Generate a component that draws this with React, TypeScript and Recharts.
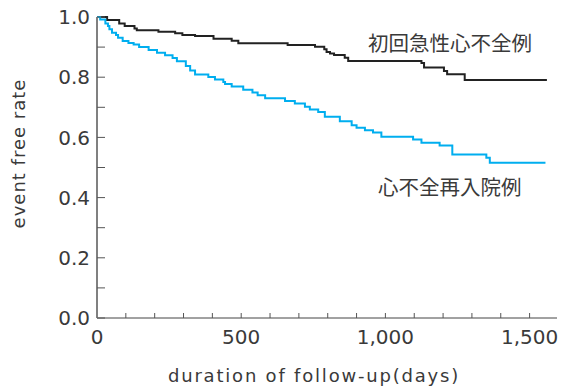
import { LineChart, Line, XAxis, YAxis } from 'recharts'

// 初回急性心不全例 (black)
const firstDays = [0, 35, 77, 96, 130, 138, 213, 271, 296, 340, 404, 467, 490, 661, 756, 788, 796, 808, 822, 859, 871, 1125, 1134, 1203, 1214, 1275, 1560]
const firstRates = [1.0, 0.99, 0.978, 0.97, 0.962, 0.956, 0.951, 0.946, 0.94, 0.937, 0.928, 0.921, 0.913, 0.907, 0.901, 0.893, 0.884, 0.879, 0.874, 0.865, 0.854, 0.847, 0.832, 0.821, 0.81, 0.791, 0.791]

// 心不全再入院例 (blue)
const readmitDays = [0, 11, 29, 38, 43, 52, 66, 73, 89, 109, 127, 146, 179, 208, 236, 262, 277, 308, 323, 340, 386, 409, 438, 444, 467, 507, 539, 557, 583, 652, 686, 721, 738, 767, 790, 842, 883, 900, 929, 957, 986, 1096, 1125, 1188, 1232, 1350, 1362, 1555]
const readmitRates = [1.0, 0.992, 0.978, 0.97, 0.959, 0.948, 0.94, 0.931, 0.92, 0.914, 0.909, 0.9, 0.89, 0.881, 0.873, 0.864, 0.853, 0.837, 0.822, 0.809, 0.801, 0.792, 0.784, 0.777, 0.769, 0.758, 0.749, 0.74, 0.73, 0.721, 0.713, 0.702, 0.693, 0.684, 0.669, 0.654, 0.64, 0.632, 0.624, 0.616, 0.602, 0.593, 0.582, 0.573, 0.543, 0.532, 0.516, 0.516]

const xTicks = [0, 100, 200, 300, 400, 500, 600, 700, 800, 900, 1000, 1100, 1200, 1300, 1400, 1500]
const yTicks = [0, 0.1, 0.2, 0.3, 0.4, 0.5, 0.6, 0.7, 0.8, 0.9, 1.0]

const firstData = firstDays.map((d, i) => ({ day: d, rate: firstRates[i] }))
const readmitData = readmitDays.map((d, i) => ({ day: d, rate: readmitRates[i] }))

const LATIN = '"DejaVu Sans", sans-serif'
const CJK = '"Noto Sans CJK JP", sans-serif'
const TEXT = '#3a3a3a'

export default function App() {
  return (
    <div style={{ position: 'absolute', left: 0, top: 0, width: 562, height: 388, background: '#fff' }}>
      <LineChart width={562} height={388} margin={{ top: 17, right: 5, left: 0, bottom: 0 }}>
        <XAxis
          dataKey="day"
          type="number"
          domain={[0, 1595]}
          ticks={xTicks}
          tickFormatter={(v: number) => (v % 500 === 0 ? v.toLocaleString('en-US') : '')}
          tickSize={-5}
          tickMargin={17}
          height={70}
          axisLine={{ stroke: '#444', strokeWidth: 1 }}
          tickLine={{ stroke: '#555' }}
          tick={{ fill: TEXT, fontSize: 20, fontFamily: LATIN }}
          label={{ value: 'duration of follow-up(days)', position: 'insideBottom', offset: 6, dx: -13, fill: TEXT, fontSize: 18, fontFamily: LATIN, style: { letterSpacing: '1.8px' } }}
        />
        <YAxis
          type="number"
          domain={[0, 1]}
          ticks={yTicks}
          tickFormatter={(v: number) => (Math.round(v * 10) % 2 === 0 ? v.toFixed(1) : '')}
          tickSize={-8}
          tickMargin={15}
          width={97}
          axisLine={{ stroke: '#808080', strokeWidth: 2 }}
          tickLine={{ stroke: '#555' }}
          tick={{ fill: TEXT, fontSize: 20, fontFamily: LATIN }}
          label={{ value: 'event free rate', angle: -90, position: 'insideLeft', offset: 19, dy: -14, fill: TEXT, fontSize: 18, fontFamily: LATIN, style: { textAnchor: 'middle', letterSpacing: '1px' } }}
        />
        <Line data={firstData} dataKey="rate" type="stepAfter" stroke="#222" strokeWidth={2} dot={false} isAnimationActive={false} />
        <Line data={readmitData} dataKey="rate" type="stepAfter" stroke="#00aeef" strokeWidth={2} dot={false} isAnimationActive={false} />
      </LineChart>
      <div style={{ position: 'absolute', left: 368, top: 32, fontFamily: CJK, fontSize: 20.5, lineHeight: 1, color: TEXT, whiteSpace: 'nowrap' }}>初回急性心不全例</div>
      <div style={{ position: 'absolute', left: 378, top: 176, fontFamily: CJK, fontSize: 20.5, lineHeight: 1, color: TEXT, whiteSpace: 'nowrap' }}>心不全再入院例</div>
    </div>
  )
}
